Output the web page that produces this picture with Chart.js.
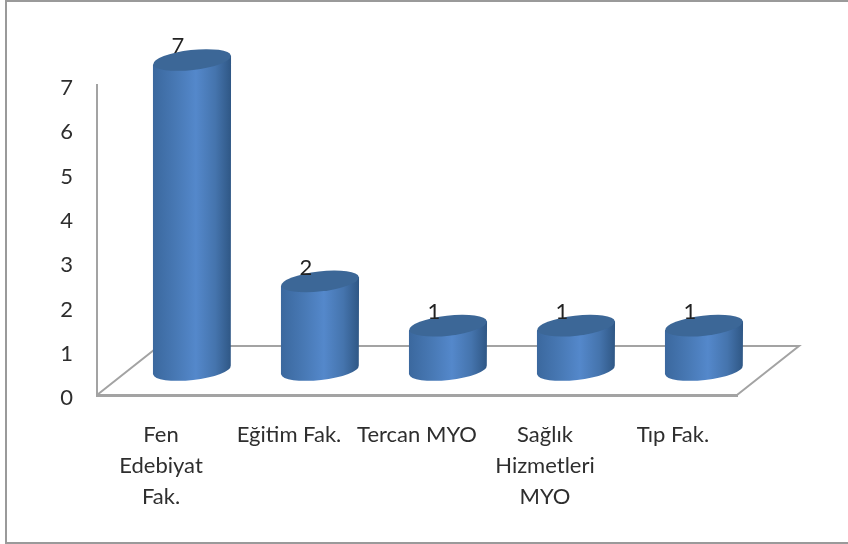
<!DOCTYPE html>
<html>
<head>
<meta charset="utf-8">
<style>
html, body { margin: 0; padding: 0; background: #fff; overflow: hidden; }
#frame { position: absolute; left: 5px; top: 0; width: 843px; height: 544px; box-sizing: border-box;
         border-left: 2px solid #9a9a9a; border-top: 2px solid #9a9a9a; border-bottom: 2px solid #9a9a9a; }
#box { position: absolute; left: 0; top: 0; width: 848px; height: 544px; }
</style>
<script src="https://cdn.jsdelivr.net/npm/chart.js@4"></script>
</head>
<body>
<div id="frame"></div>
<div id="box"><canvas id="myChart" width="848" height="544"></canvas></div>
<script>
const categories = [['Fen', 'Edebiyat', 'Fak.'], 'Eğitim Fak.', 'Tercan MYO', ['Sağlık', 'Hizmetleri', 'MYO'], 'Tıp Fak.'];
const values = [7, 2, 1, 1, 1];
const yTicks = [0, 1, 2, 3, 4, 5, 6, 7];

const fontName = 'Lato, "Open Sans", sans-serif';
const axisColor = '#a3a3a3';
const textColor = '#2e2e2e';

// how far the columns sit in from the front edge of the floor
const barDx = 31;
const barDy = -25;
// floor depth
const floorDx = 62;
const floorDy = -49;

const floorPlugin = {
    id: 'floor',
    beforeDatasetsDraw(chart) {
        const a = chart.chartArea;
        const ctx = chart.ctx;
        ctx.save();
        ctx.strokeStyle = axisColor;
        ctx.lineWidth = 2;
        ctx.beginPath();
        ctx.moveTo(a.left, a.bottom);
        ctx.lineTo(a.left + floorDx, a.bottom + floorDy);
        ctx.lineTo(a.right + floorDx, a.bottom + floorDy);
        ctx.lineTo(a.right, a.bottom);
        ctx.stroke();
        ctx.restore();
    }
};

const cylinderPlugin = {
    id: 'cylinder',
    afterDatasetsDraw(chart) {
        const ctx = chart.ctx;
        const meta = chart.getDatasetMeta(0);
        const rot = -6.5 * Math.PI / 180;
        meta.data.forEach((bar, i) => {
            const cx = bar.x + barDx;
            const top = bar.y + barDy;
            const bottom = bar.base + barDy;
            const rx = bar.width / 2;
            const ry = 10;
            const tilt = rx * Math.sin(rot);

            const grad = ctx.createLinearGradient(cx - rx, 0, cx + rx, 0);
            grad.addColorStop(0, '#3b689e');
            grad.addColorStop(0.3, '#4879b5');
            grad.addColorStop(0.55, '#5488cb');
            grad.addColorStop(0.8, '#4574ad');
            grad.addColorStop(1, '#2f5785');

            ctx.save();
            ctx.beginPath();
            ctx.moveTo(cx - rx, top - tilt);
            ctx.lineTo(cx - rx, bottom - tilt);
            ctx.ellipse(cx, bottom, rx, ry, rot, Math.PI, 0, true);
            ctx.lineTo(cx + rx, top + tilt);
            ctx.closePath();
            ctx.fillStyle = grad;
            ctx.fill();

            ctx.beginPath();
            ctx.ellipse(cx, top, rx, ry, rot, 0, Math.PI * 2);
            ctx.fillStyle = '#3c6797';
            ctx.fill();

            // value label
            ctx.fillStyle = '#222222';
            ctx.font = '22px ' + fontName;
            ctx.textAlign = 'center';
            ctx.textBaseline = 'middle';
            ctx.fillText(String(values[i]), bar.x + 17, bar.y - 39);
            ctx.restore();
        });
    }
};

const data = {
    labels: categories,
    datasets: [{
        label: 'Sayı',
        data: values,
        backgroundColor: 'rgba(0,0,0,0)',
        borderWidth: 0,
        barPercentage: 0.61,
        categoryPercentage: 1
    }]
};

const config = {
    type: 'bar',
    data: data,
    options: {
        responsive: false,
        animation: false,
        layout: { padding: { top: 85, right: 111, left: 0, bottom: 0 } },
        plugins: { legend: { display: false }, title: { display: false }, tooltip: { enabled: false } },
        scales: {
            x: {
                afterFit(scale) { scale.height = 149; },
                grid: { display: false, drawTicks: false },
                border: { display: true, color: axisColor, width: 3 },
                ticks: {
                    color: textColor,
                    padding: 24,
                    maxRotation: 0,
                    autoSkip: false,
                    font: { family: fontName, size: 22, lineHeight: 1.41 }
                }
            },
            y: {
                min: 0,
                max: 7,
                afterFit(scale) {
                    scale.width = 97;
                    // the numbers sit a little below their tick in the original
                    if (!scale.labelsMoved) {
                        const drawLabels = scale.drawLabels;
                        scale.drawLabels = function (area) {
                            this.ctx.save();
                            this.ctx.translate(0, 3);
                            drawLabels.call(this, area);
                            this.ctx.restore();
                        };
                        scale.labelsMoved = true;
                    }
                },
                afterBuildTicks(scale) { scale.ticks = yTicks.map(v => ({ value: v })); },
                grid: { display: false, drawTicks: false },
                border: { display: true, color: axisColor, width: 2 },
                ticks: {
                    color: textColor,
                    padding: 24,
                    font: { family: fontName, size: 22 }
                }
            }
        }
    },
    plugins: [floorPlugin, cylinderPlugin]
};

var myChart = new Chart(document.getElementById('myChart'), config);
</script>
</body>
</html>
